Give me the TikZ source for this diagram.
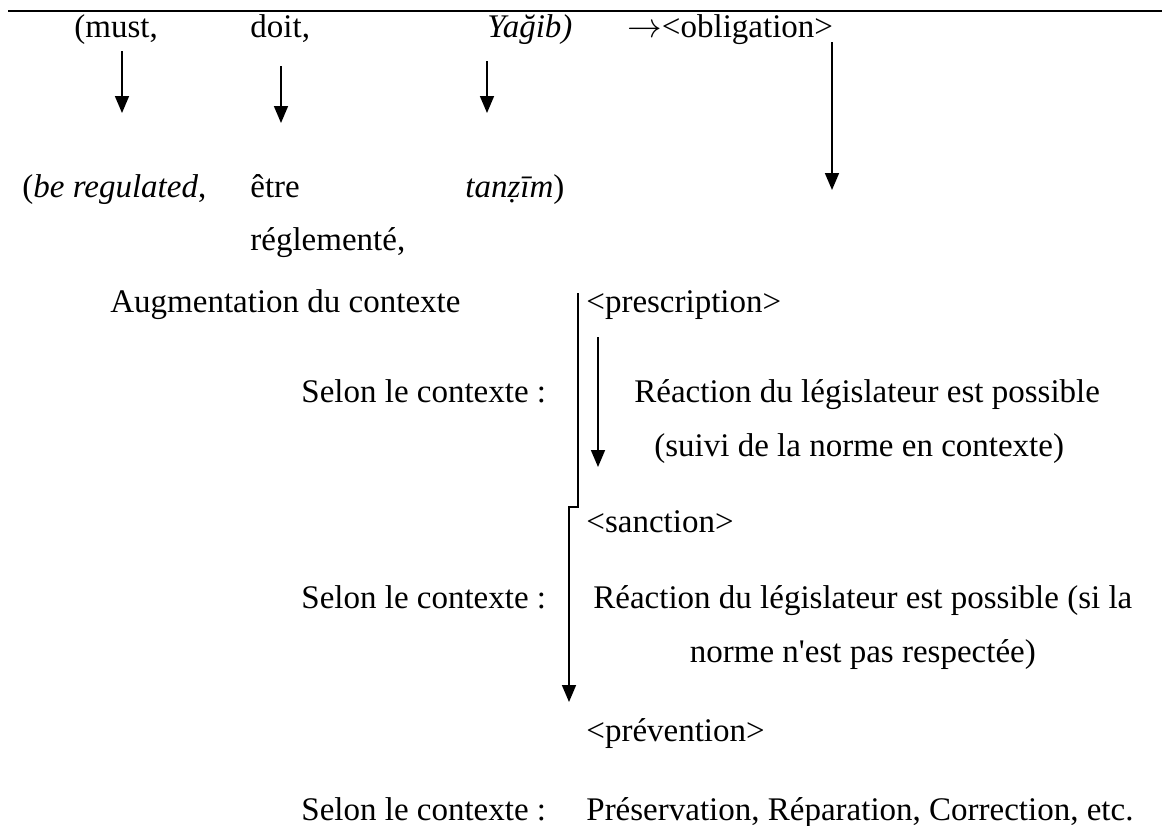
\documentclass[tikz,border=0pt]{standalone}
\usepackage{fontspec}
\setmainfont{Liberation Serif}
\usetikzlibrary{positioning,arrows.meta}

\begin{document}
\begin{tikzpicture}[
    x=0.5pt, y=-0.5pt,
    word/.style={
        inner sep=0pt,
        anchor=base west,
        font=\fontsize{16.5pt}{26pt}\selectfont
    },
    mid/.style={word, anchor=base},
    line/.style={-{Triangle[length=8.5pt,width=7pt]}, line width=0.85pt}
]
\useasboundingbox (0,0) rectangle (1162,825);

% top rule
\coordinate (ruleL) at (8,11);
\coordinate (ruleR) at (1162,11);
\draw[line width=1.3pt] (ruleL) -- (ruleR);

% modal words
\node[word] (must) at (74,37) {(must,};
\node[word] (doit) at (250,37) {doit,};
\node[word] (yagib) at (487,37) {\textit{Yağib)}};
\node[word] (oblig) at (627,37) {$\rightarrow$<obligation>};

\node[word] (beReg) at (22,197) {(\textit{be regulated},};
\node[word] (etre) at (250,197) {être};
\node[word] (tanzim) at (465,197) {\textit{tanẓīm})};
\node[word] (regl) at (250,250) {réglementé,};

% context levels
\node[word] (augm) at (110,312) {Augmentation du contexte};
\node[word] (prescr) at (586,312) {<prescription>};
\node[word] (selonA) at (301,402) {Selon le contexte :};
\node[word] (reactA) at (634,402) {Réaction du législateur est possible};
\node[mid] (suivi) at ([xshift=-4]reactA.base |- 0,456) {(suivi de la norme en contexte)};
\node[word] (sanct) at (586,532) {<sanction>};
\node[word] (selonB) at (301,608) {Selon le contexte :};
\node[word] (reactB) at (593,608) {Réaction du législateur est possible (si la};
\node[mid] (norme) at (reactB.base |- 0,662) {norme n\textquotesingle est pas respectée)};
\node[word] (prev) at (586,741) {<prévention>};
\node[word] (selonC) at (301,820) {Selon le contexte :};
\node[word] (preserv) at (586,820) {Préservation, Réparation, Correction, etc.};

% arrow ends
\coordinate (mustA) at (122,51);   \coordinate (mustB) at (122,113);
\coordinate (doitA) at (281,66);   \coordinate (doitB) at (281,123);
\coordinate (yagibA) at (487,61);  \coordinate (yagibB) at (487,113);
\coordinate (obligA) at (832,42);  \coordinate (obligB) at (832,190);
\coordinate (brTop) at (578,293);  \coordinate (brKnee) at (578,507);
\coordinate (brStep) at (569,507); \coordinate (brEnd) at (569,702);
\coordinate (innA) at (598,337);   \coordinate (innB) at (598,467);

\draw[line] (mustA) -- (mustB);
\draw[line] (doitA) -- (doitB);
\draw[line] (yagibA) -- (yagibB);
\draw[line] (obligA) -- (obligB);
\draw[line] (brTop) -- (brKnee) -- (brStep) -- (brEnd);
\draw[line] (innA) -- (innB);

\end{tikzpicture}
\end{document}
